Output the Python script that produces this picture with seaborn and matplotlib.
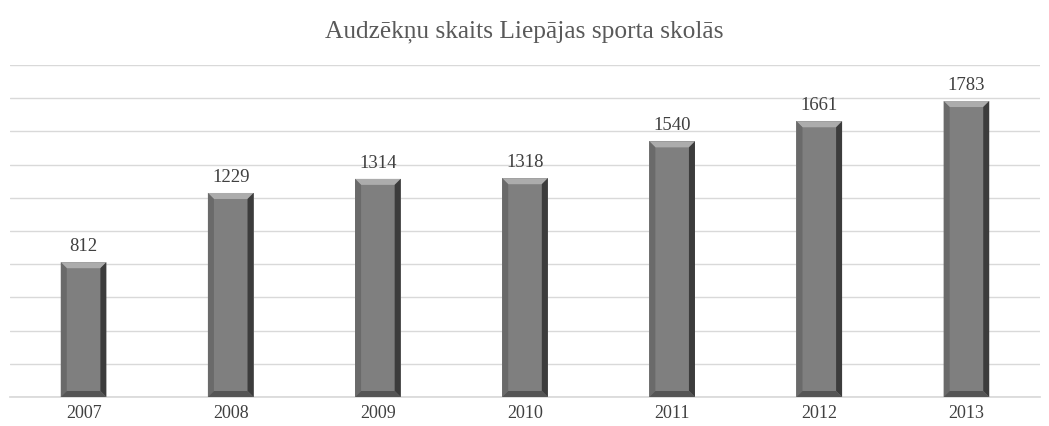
import matplotlib
matplotlib.use("Agg")
import matplotlib.pyplot as plt
import seaborn as sns
import pandas as pd
import numpy as np
from matplotlib.patches import Polygon

years = ["2007", "2008", "2009", "2010", "2011", "2012", "2013"]
students = [812, 1229, 1314, 1318, 1540, 1661, 1783]
title = "Audzēkņu skaits Liepājas sporta skolās"

sns.set_theme(style="white")
plt.rcParams['font.family'] = ['Liberation Serif', 'DejaVu Serif']

df = pd.DataFrame({"year": years, "students": students})

fig = plt.figure(figsize=(10.49, 4.26), dpi=100)
ax = fig.add_axes([10/1049, 29/426, 1030/1049, 332/426])

sns.barplot(data=df, x="year", y="students", ax=ax, color="#7f7f7f",
            width=0.31, saturation=1, edgecolor="none", zorder=3)

ax.set_ylim(0, 2000)
ax.set_yticks(np.arange(0, 2001, 200))
ax.yaxis.grid(True, color="#d9d9d9", linewidth=1, zorder=0)
ax.set_axisbelow(True)
ax.tick_params(axis="y", left=False, labelleft=False)
ax.tick_params(axis="x", bottom=False, length=0, labelsize=13, labelcolor="#404040", pad=6)
for s in ["top", "right", "left"]:
    ax.spines[s].set_visible(False)
ax.spines["bottom"].set_color("#d9d9d9")
ax.set_xlabel("")
ax.set_ylabel("")

# bevel effect derived from bar geometry
fig.canvas.draw()
px_x = (ax.get_xlim()[1] - ax.get_xlim()[0]) / (ax.get_window_extent().width)
px_y = (ax.get_ylim()[1] - ax.get_ylim()[0]) / (ax.get_window_extent().height)
b = 6
for p in ax.patches:
    x0, y0 = p.get_x(), p.get_y()
    w, h = p.get_width(), p.get_height()
    x1, y1 = x0 + w, y0 + h
    bx, by = b * px_x, b * px_y
    top = Polygon([(x0, y1), (x1, y1), (x1 - bx, y1 - by), (x0 + bx, y1 - by)],
                  closed=True, facecolor="#acacac", edgecolor="none", zorder=4)
    left = Polygon([(x0, y0), (x0, y1), (x0 + bx, y1 - by), (x0 + bx, y0 + by)],
                   closed=True, facecolor="#6a6a6a", edgecolor="none", zorder=4)
    right = Polygon([(x1, y0), (x1, y1), (x1 - bx, y1 - by), (x1 - bx, y0 + by)],
                    closed=True, facecolor="#3c3c3c", edgecolor="none", zorder=4)
    bottom = Polygon([(x0, y0), (x1, y0), (x1 - bx, y0 + by), (x0 + bx, y0 + by)],
                     closed=True, facecolor="#555555", edgecolor="none", zorder=4)
    for poly in (top, left, right, bottom):
        ax.add_patch(poly)

for container in ax.containers:
    ax.bar_label(container, labels=[str(v) for v in students], padding=5,
                 fontsize=13.5, color="#404040")

fig.suptitle(title, y=1 - 32/426, va="center", fontsize=18.3, color="#595959")

fig.savefig("out.png", dpi=100, facecolor="white")
